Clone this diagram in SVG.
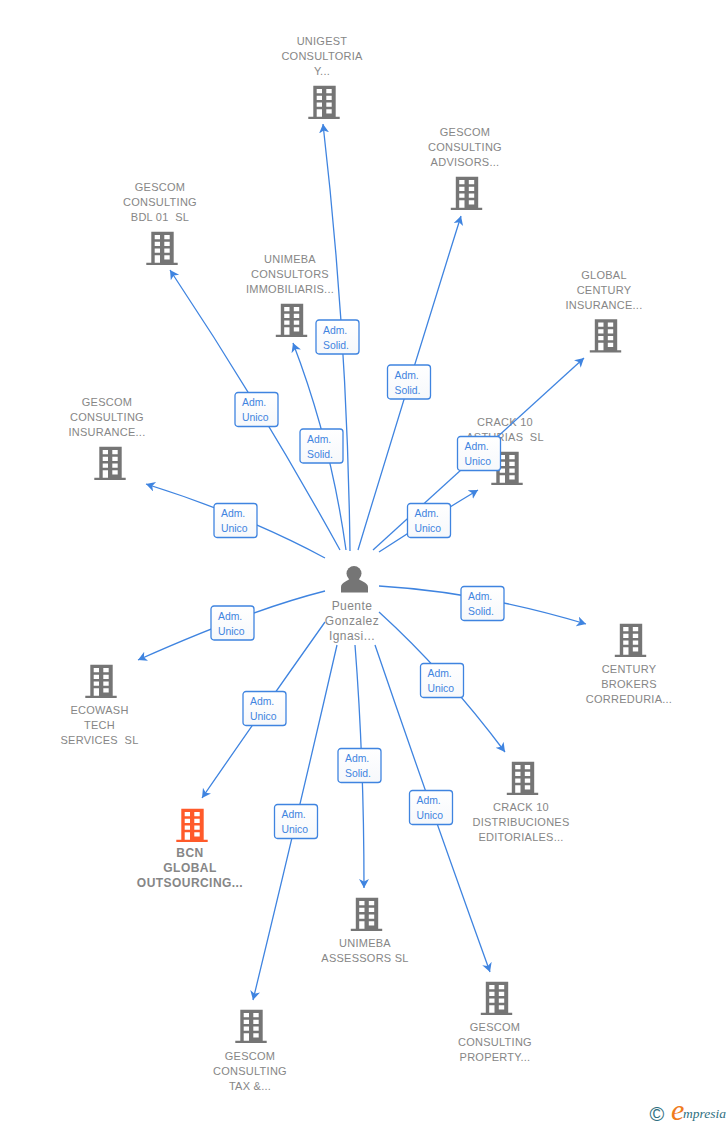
<svg xmlns="http://www.w3.org/2000/svg" width="728" height="1125" viewBox="0 0 728 1125">
<style>
text{font-family:"Liberation Sans",Arial,sans-serif;white-space:pre}
.n{font-size:11px;fill:#868686;text-anchor:middle;letter-spacing:.25px}
.b{font-weight:bold;font-size:12px;letter-spacing:.45px}
.p{font-size:12px;fill:#868686;text-anchor:middle;letter-spacing:.45px}
.e{fill:none;stroke:#3f84e0;stroke-width:1.3;marker-end:url(#a)}
.l rect{fill:url(#g);stroke:#3f84e0;stroke-width:1.3}
.l text{font-size:10.4px;fill:#3f84e0}
.i{fill:#757575}
.o{fill:#ff5a2a}
</style>
<defs>
<marker id="a" markerUnits="userSpaceOnUse" markerWidth="12" markerHeight="12" refX="9" refY="5" orient="auto"><path d="M0 0L9 5L0 10L2.500 5Z" fill="#3f84e0"/></marker>
<linearGradient id="g" x1="0" y1="0" x2="0" y2="1"><stop offset="0" stop-color="#fff"/><stop offset="1" stop-color="#f6f8fb"/></linearGradient>
<path id="b" fill-rule="evenodd" d="M-10.7-16.3H11.7V14.7H15.7V17H-15.7V14.7H-10.7ZM-7.3-13V-8.7H-2V-13ZM2.3-13V-8.7H7.7V-13ZM-7.3-6.300V-2H-2V-6.300ZM2.3-6.300V-2H7.700V-6.300ZM-7.3.4V4.700H-2V.4ZM2.3.4V4.700H7.700V.4ZM-7.300 7.300V14.700H-2V7.300ZM2.300 7.300V11.600H7.700V7.300Z"/>
</defs>
<g id="node-unigest"><text class="n" x="322" y="45">UNIGEST</text><text class="n" x="322" y="60">CONSULTORIA</text><text class="n" x="322" y="75">Y...</text><use href="#b" class="i" x="324" y="102"/></g>
<g id="node-advisors"><text class="n" x="465" y="136">GESCOM</text><text class="n" x="465" y="151">CONSULTING</text><text class="n" x="465" y="166">ADVISORS...</text><use href="#b" class="i" x="466.500" y="193"/></g>
<g id="node-bdl"><text class="n" x="160" y="191">GESCOM</text><text class="n" x="160" y="206">CONSULTING</text><text class="n" x="160" y="221">BDL 01  SL</text><use href="#b" class="i" x="162" y="248"/></g>
<g id="node-unimeba"><text class="n" x="290" y="263">UNIMEBA</text><text class="n" x="290" y="278">CONSULTORS</text><text class="n" x="290" y="293">IMMOBILIARIS...</text><use href="#b" class="i" x="291.500" y="320"/></g>
<g id="node-global"><text class="n" x="604" y="279">GLOBAL</text><text class="n" x="604" y="294">CENTURY</text><text class="n" x="604" y="309">INSURANCE...</text><use href="#b" class="i" x="605.500" y="335.500"/></g>
<g id="node-crack-asturias"><text class="n" x="505" y="426">CRACK 10</text><text class="n" x="505" y="441">ASTURIAS  SL</text><use href="#b" class="i" x="507" y="468"/></g>
<g id="node-insurance"><text class="n" x="107" y="406">GESCOM</text><text class="n" x="107" y="421">CONSULTING</text><text class="n" x="107" y="436">INSURANCE...</text><use href="#b" class="i" x="110" y="463"/></g>
<g id="node-ecowash"><use href="#b" class="i" x="101" y="681"/><text class="n" x="99.500" y="714">ECOWASH</text><text class="n" x="99.500" y="729">TECH</text><text class="n" x="99.500" y="744">SERVICES  SL</text></g>
<g id="node-bcn"><use href="#b" class="o" x="192" y="825"/><text class="n b" x="190" y="857">BCN</text><text class="n b" x="190" y="872">GLOBAL</text><text class="n b" x="190" y="887">OUTSOURCING...</text></g>
<g id="node-century"><use href="#b" class="i" x="630.500" y="640"/><text class="n" x="629" y="673">CENTURY</text><text class="n" x="629" y="688">BROKERS</text><text class="n" x="629" y="703">CORREDURIA...</text></g>
<g id="node-crack-dist"><use href="#b" class="i" x="522.500" y="778"/><text class="n" x="521" y="811">CRACK 10</text><text class="n" x="521" y="826">DISTRIBUCIONES</text><text class="n" x="521" y="841">EDITORIALES...</text></g>
<g id="node-assessors"><use href="#b" class="i" x="366.500" y="914"/><text class="n" x="365" y="947">UNIMEBA</text><text class="n" x="365" y="962">ASSESSORS SL</text></g>
<g id="node-property"><use href="#b" class="i" x="496.500" y="998"/><text class="n" x="495" y="1031">GESCOM</text><text class="n" x="495" y="1046">CONSULTING</text><text class="n" x="495" y="1061">PROPERTY...</text></g>
<g id="node-tax"><use href="#b" class="i" x="251" y="1026"/><text class="n" x="250" y="1060">GESCOM</text><text class="n" x="250" y="1075">CONSULTING</text><text class="n" x="250" y="1090">TAX &amp;...</text></g>
<g id="node-person"><circle class="i" cx="354" cy="573.500" r="7.500"/><path class="i" d="M341 592.500V587C341 582 349 581 350 578H358C359 581 368 582 368 587V592.500Z"/><text class="p" x="352" y="610">Puente</text><text class="p" x="352" y="625">Gonzalez</text><text class="p" x="352" y="640">Ignasi...</text></g>
<g id="connectors">
<path class="e" d="M350 551Q347.500 336.500 323 124"/>
<path class="e" d="M358 550Q408 385 461 216"/>
<path class="e" d="M340 550Q260 405 170 270"/>
<path class="e" d="M346 550Q331 442 293 343"/>
<path class="e" d="M325 558Q245 515 146 484"/>
<path class="e" d="M373 550Q478 454 584 358"/>
<path class="e" d="M379 552Q428 520 478 490"/>
<path class="e" d="M379 586Q480 592 586 624"/>
<path class="e" d="M379 612Q445 672 505 752"/>
<path class="e" d="M375 645Q428 800 490 972"/>
<path class="e" d="M355 645Q364 760 364 888"/>
<path class="e" d="M337 645Q298 815 253 1000"/>
<path class="e" d="M325 622Q264 708 202 798"/>
<path class="e" d="M325 591Q250 610 138 660"/>
</g>
<g id="edge-labels" class="l">
<g transform="translate(316 320)"><rect width="43" height="34" rx="3"/><text x="7" y="13.500">Adm.</text><text x="7" y="28.500">Solid.</text></g>
<g transform="translate(387.500 365)"><rect width="43" height="34" rx="3"/><text x="7" y="13.500">Adm.</text><text x="7" y="28.500">Solid.</text></g>
<g transform="translate(235 392.500)"><rect width="43" height="34" rx="3"/><text x="7" y="13.500">Adm.</text><text x="7" y="28.500">Unico</text></g>
<g transform="translate(300 429)"><rect width="43" height="34" rx="3"/><text x="7" y="13.500">Adm.</text><text x="7" y="28.500">Solid.</text></g>
<g transform="translate(457.500 436.500)"><rect width="43" height="34" rx="3"/><text x="7" y="13.500">Adm.</text><text x="7" y="28.500">Unico</text></g>
<g transform="translate(407.500 503.500)"><rect width="43" height="34" rx="3"/><text x="7" y="13.500">Adm.</text><text x="7" y="28.500">Unico</text></g>
<g transform="translate(214 503.500)"><rect width="43" height="34" rx="3"/><text x="7" y="13.500">Adm.</text><text x="7" y="28.500">Unico</text></g>
<g transform="translate(461 586.500)"><rect width="43" height="34" rx="3"/><text x="7" y="13.500">Adm.</text><text x="7" y="28.500">Solid.</text></g>
<g transform="translate(211 606)"><rect width="43" height="34" rx="3"/><text x="7" y="13.500">Adm.</text><text x="7" y="28.500">Unico</text></g>
<g transform="translate(420.500 663.500)"><rect width="43" height="34" rx="3"/><text x="7" y="13.500">Adm.</text><text x="7" y="28.500">Unico</text></g>
<g transform="translate(243 691.500)"><rect width="43" height="34" rx="3"/><text x="7" y="13.500">Adm.</text><text x="7" y="28.500">Unico</text></g>
<g transform="translate(338 748.500)"><rect width="43" height="34" rx="3"/><text x="7" y="13.500">Adm.</text><text x="7" y="28.500">Solid.</text></g>
<g transform="translate(409.500 790.500)"><rect width="43" height="34" rx="3"/><text x="7" y="13.500">Adm.</text><text x="7" y="28.500">Unico</text></g>
<g transform="translate(274.500 804.500)"><rect width="43" height="34" rx="3"/><text x="7" y="13.500">Adm.</text><text x="7" y="28.500">Unico</text></g>
</g>
<g id="logo"><text x="649.500" y="1121" font-size="20" fill="#2f6f80">©</text><text x="671" y="1120" font-size="30" fill="#f07c1c" style="font-family:'Liberation Serif',serif;font-style:italic">e</text><text x="683" y="1118" font-size="13.500" fill="#2f6f80" style="font-family:'Liberation Serif',serif;font-style:italic">mpresia</text></g>
</svg>
